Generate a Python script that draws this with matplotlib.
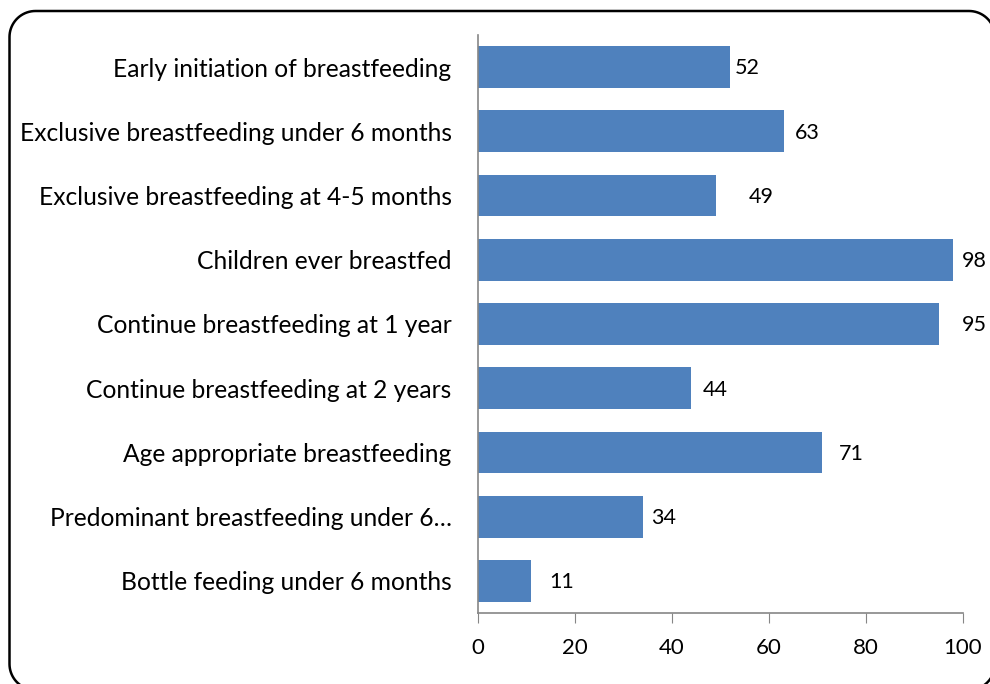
import matplotlib
matplotlib.use("Agg")
import matplotlib.pyplot as plt
import numpy as np

# =========================
# DATA
# =========================
categories = [
    "Early initiation of breastfeeding",
    "Exclusive breastfeeding under 6 months",
    "Exclusive breastfeeding at 4-5 months",
    "Children ever breastfed",
    "Continue breastfeeding at 1 year",
    "Continue breastfeeding at 2 years",
    "Age appropriate breastfeeding",
    "Predominant breastfeeding under 6\u2026",
    "Bottle feeding under 6 months",
]
values = [52, 63, 49, 98, 95, 44, 71, 34, 11]
x_ticks = [0, 20, 40, 60, 80, 100]

# label offsets (points) as placed in the original
label_offsets = [3, 8, 24, 6, 17, 8, 12, 6, 13]

plt.rcParams["font.family"] = ["Lato", "DejaVu Sans"]

fig = plt.figure(figsize=(9.9, 6.84), dpi=100)

# background axes in pixel units for the rounded frame
bg = fig.add_axes([0, 0, 1, 1])
bg.set_xlim(0, 990)
bg.set_ylim(0, 684)
bg.axis("off")


def rounded_rect(x0, y0, x1, y1, r, n=20):
    # corners: (center, start angle, end angle)
    corners = [
        ((x1 - r, y1 - r), 0, 90),
        ((x0 + r, y1 - r), 90, 180),
        ((x0 + r, y0 + r), 180, 270),
        ((x1 - r, y0 + r), 270, 360),
    ]
    xs, ys = [], []
    for (cx, cy), a0, a1 in corners:
        t = np.radians(np.linspace(a0, a1, n))
        xs.extend(cx + r * np.cos(t))
        ys.extend(cy + r * np.sin(t))
    xs.append(xs[0])
    ys.append(ys[0])
    return xs, ys


fx, fy = rounded_rect(9.5, -6, 995, 684 - 11, 26)
bg.plot(fx, fy, color="black", linewidth=1.8)

ax = fig.add_axes([478 / 990, 1 - 613 / 684, (963 - 478) / 990, (613 - 35) / 684])

pos = list(range(len(categories)))
ax.barh(pos, values, height=0.65, color="#4F81BD")

for p, v, off in zip(pos, values, label_offsets):
    ax.annotate(str(v), (v, p), xytext=(off, -1), textcoords="offset points",
                va="center", ha="left", fontsize=15.5)

ax.set_yticks(pos)
ax.set_yticklabels(categories, fontsize=17.7)
ax.set_ylim(len(categories) - 0.5, -0.5)
ax.set_xlim(0, 100)
ax.set_xticks(x_ticks)
ax.set_xticklabels([str(t) for t in x_ticks], fontsize=16)
ax.patch.set_visible(False)

for s in ["top", "right"]:
    ax.spines[s].set_visible(False)
for s in ["left", "bottom"]:
    ax.spines[s].set_color("#868686")
    ax.spines[s].set_linewidth(1.2)

ax.tick_params(axis="y", length=0, pad=19)
ax.tick_params(axis="x", length=7, color="#868686", direction="out", pad=11)

fig.savefig("out.png", dpi=100)
